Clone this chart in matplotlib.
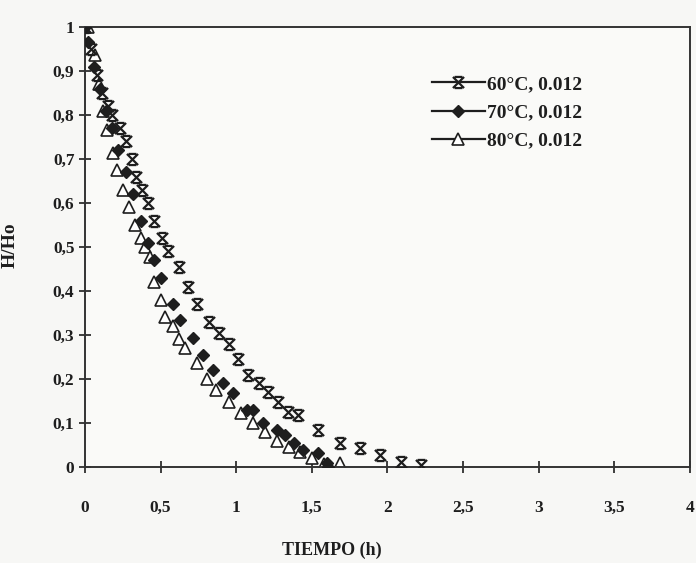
import matplotlib
matplotlib.use("Agg")
import matplotlib.pyplot as plt
from matplotlib.path import Path
from matplotlib.lines import Line2D
from matplotlib.ticker import FuncFormatter

# ---- data ----
t60 = [0, 0.04, 0.08, 0.11, 0.15, 0.18, 0.23, 0.27, 0.31, 0.34, 0.38, 0.42, 0.46, 0.51, 0.55,
       0.62, 0.68, 0.74, 0.82, 0.89, 0.95, 1.01, 1.08, 1.15, 1.21, 1.28, 1.34, 1.41, 1.54, 1.69,
       1.82, 1.95, 2.09, 2.22]
h60 = [1.0, 0.95, 0.89, 0.85, 0.82, 0.80, 0.77, 0.74, 0.70, 0.66, 0.63, 0.60, 0.56, 0.52, 0.49,
       0.455, 0.41, 0.37, 0.33, 0.305, 0.28, 0.245, 0.21, 0.19, 0.17, 0.148, 0.125, 0.118, 0.084,
       0.055, 0.043, 0.027, 0.011, 0.005]

t70 = [0, 0.02, 0.06, 0.10, 0.14, 0.18, 0.22, 0.27, 0.32, 0.37, 0.42, 0.46, 0.50, 0.58, 0.63,
       0.715, 0.78, 0.85, 0.91, 0.98, 1.07, 1.11, 1.18, 1.27, 1.32, 1.38, 1.44, 1.54, 1.60, 1.61]
h70 = [1.0, 0.966, 0.91, 0.86, 0.81, 0.77, 0.72, 0.67, 0.62, 0.56, 0.51, 0.47, 0.43, 0.37, 0.334,
       0.293, 0.255, 0.22, 0.19, 0.168, 0.13, 0.13, 0.10, 0.084, 0.073, 0.055, 0.039, 0.032,
       0.009, 0.0]

t80 = [0, 0.02, 0.066, 0.09, 0.12, 0.145, 0.186, 0.21, 0.25, 0.29, 0.33, 0.37, 0.40, 0.43,
       0.46, 0.50, 0.53, 0.58, 0.62, 0.66, 0.74, 0.81, 0.87, 0.95, 1.03, 1.11, 1.19, 1.27, 1.35,
       1.42, 1.50, 1.58, 1.69]
h80 = [1.0, 1.0, 0.936, 0.87, 0.81, 0.766, 0.714, 0.675, 0.63, 0.59, 0.55, 0.52, 0.50, 0.477,
       0.42, 0.38, 0.34, 0.32, 0.29, 0.27, 0.236, 0.20, 0.175, 0.148, 0.123, 0.10, 0.08, 0.06,
       0.045, 0.034, 0.02, 0.006, 0.008]

labels = ["60°C, 0.012", "70°C, 0.012", "80°C, 0.012"]
xticks = [0, 0.5, 1, 1.5, 2, 2.5, 3, 3.5, 4]
yticks = [0, 0.1, 0.2, 0.3, 0.4, 0.5, 0.6, 0.7, 0.8, 0.9, 1]

# ---- style ----
plt.rcParams['font.family'] = ['Liberation Serif', 'DejaVu Serif']
ink = '#1e1e1e'

# hourglass-like X marker
verts = [(-1, -1), (1, 1), (-1, 1), (1, -1), (-0.7, 1), (0.7, 1), (-0.7, -1), (0.7, -1)]
codes = [Path.MOVETO, Path.LINETO, Path.MOVETO, Path.LINETO,
         Path.MOVETO, Path.LINETO, Path.MOVETO, Path.LINETO]
xmark = Path(verts, codes)

fig = plt.figure(figsize=(6.96, 5.63), dpi=100, facecolor='#f7f7f5')
ax = fig.add_axes([0.122, 0.1705, 0.869, 0.7815])
ax.set_facecolor('#fafaf8')

ax.plot(t60, h60, linestyle='none', marker=xmark, ms=8, mew=1.6, mec=ink, mfc='none', zorder=3)
ax.plot(t70, h70, linestyle='none', marker='D', ms=6.5, mew=1.0, mec=ink, mfc=ink, zorder=4)
ax.plot(t80, h80, linestyle='none', marker='^', ms=9, mew=1.2, mec=ink, mfc='white', zorder=2)

ax.set_xlim(0, 4)
ax.set_ylim(0, 1)
ax.set_xticks(xticks)
ax.set_yticks(yticks)

fmt = FuncFormatter(lambda v, p: ('%g' % v).replace('.', ','))
ax.xaxis.set_major_formatter(fmt)
ax.yaxis.set_major_formatter(fmt)

ax.tick_params(axis='both', direction='inout', length=9, width=1.2, colors=ink,
               labelsize=12.5)
ax.tick_params(axis='x', pad=19)
ax.tick_params(axis='y', pad=3)
for lab in ax.get_xticklabels() + ax.get_yticklabels():
    lab.set_fontweight('bold')

for s in ax.spines.values():
    s.set_color('#333333')
    s.set_linewidth(1.4)

ax.set_xlabel('TIEMPO (h)', fontsize=13, fontweight='bold', color=ink)
ax.xaxis.set_label_coords(0.408, -0.17)
ax.set_ylabel('H/Ho', fontsize=14, fontweight='bold', color=ink)
ax.yaxis.set_label_coords(-0.11, 0.505)

handles = [
    Line2D([], [], color=ink, lw=1.6, marker=xmark, ms=8, mew=1.6, mfc='none', mec=ink),
    Line2D([], [], color=ink, lw=1.6, marker='D', ms=6, mfc=ink, mec=ink),
    Line2D([], [], color=ink, lw=1.6, marker='^', ms=8, mfc='white', mec=ink, mew=1.2),
]
leg = ax.legend(handles, labels, loc='upper left', bbox_to_anchor=(0.574, 0.89),
                frameon=False, borderaxespad=0, borderpad=0, handlelength=2.7,
                handletextpad=0.15, labelspacing=0.55, numpoints=1,
                prop={'family': 'Liberation Serif', 'weight': 'bold', 'size': 14})
for txt in leg.get_texts():
    txt.set_color(ink)

fig.savefig('out.png', dpi=100, facecolor=fig.get_facecolor())
